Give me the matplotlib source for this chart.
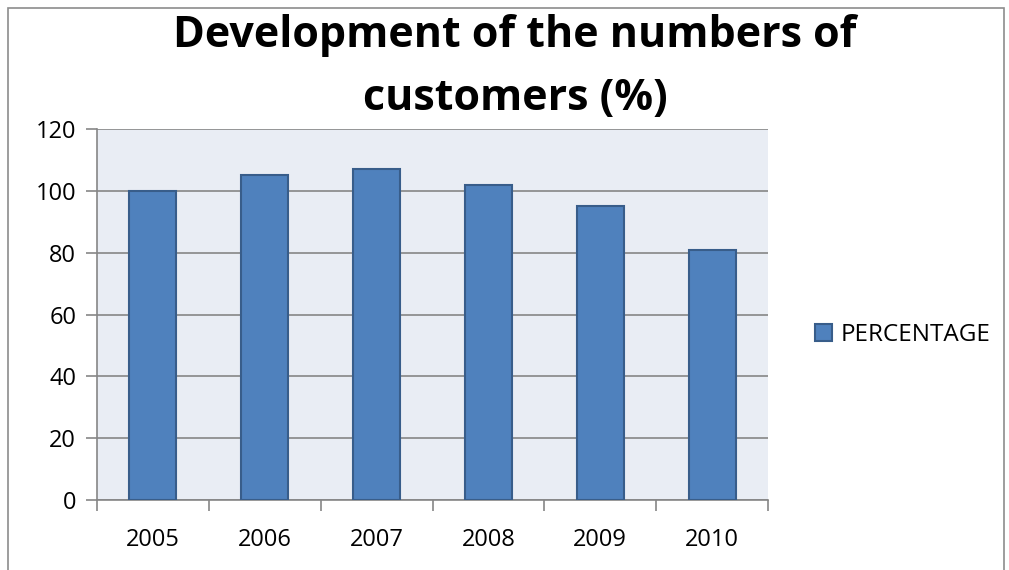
import matplotlib
matplotlib.use("Agg")
import matplotlib.pyplot as plt
from matplotlib.patches import Rectangle
import numpy as np

years = ["2005", "2006", "2007", "2008", "2009", "2010"]
percentage = [100, 105, 107, 102, 95, 81]
y_ticks = [0, 20, 40, 60, 80, 100, 120]
title_lines = ["Development of the numbers of", "customers (%)"]
series_name = "PERCENTAGE"

W, H = 1009, 570
fig = plt.figure(figsize=(W / 100, H / 100), dpi=100)
fig.patch.set_facecolor("white")

fig.patches.append(Rectangle((8 / W, -0.01), (1004 - 8) / W, (H - 8) / H + 0.01,
                             transform=fig.transFigure, fill=False,
                             edgecolor="#8c8c8c", linewidth=1.2))

ax = fig.add_axes([97 / W, (H - 500) / H, (768 - 97) / W, (500 - 129) / H])
ax.set_facecolor("#E9EDF4")

x = np.arange(len(years))
ax.bar(x, percentage, width=0.42, color="#4F81BD", edgecolor="#385D8A",
       linewidth=1.5, zorder=3, label=series_name)

ax.set_xlim(-0.5, len(years) - 0.5)
ax.set_ylim(0, 120)
ax.set_yticks(y_ticks)
ax.set_xticks(x)
ax.set_xticklabels(years)
ax.set_xticks(np.arange(-0.5, len(years)), minor=True)
ax.yaxis.grid(True, color="#868686", linewidth=1.2, zorder=0)
ax.set_axisbelow(True)

for s in ["top", "right"]:
    ax.spines[s].set_visible(False)
for s in ["left", "bottom"]:
    ax.spines[s].set_color("#868686")
    ax.spines[s].set_linewidth(1.2)

ax.tick_params(axis="x", which="major", length=0, pad=20, labelsize=17)
ax.tick_params(axis="x", which="minor", length=8, width=1.2, color="#868686")
ax.tick_params(axis="y", length=8, width=1.2, color="#868686", labelsize=17, pad=7)
for lbl in ax.get_xticklabels() + ax.get_yticklabels():
    lbl.set_fontfamily("Open Sans")

for line, base in zip(title_lines, [47, 110]):
    fig.text(515 / W, 1 - base / H, line, ha="center", va="baseline",
             fontsize=31, fontweight="bold", family="Open Sans")

leg = fig.legend(loc="center left", bbox_to_anchor=(793 / W, 1 - 335 / H),
                 frameon=False, prop={"family": "Open Sans", "size": 17.5},
                 handlelength=0.72, handleheight=0.72, handletextpad=0.35)

fig.savefig("out.png", dpi=100)
